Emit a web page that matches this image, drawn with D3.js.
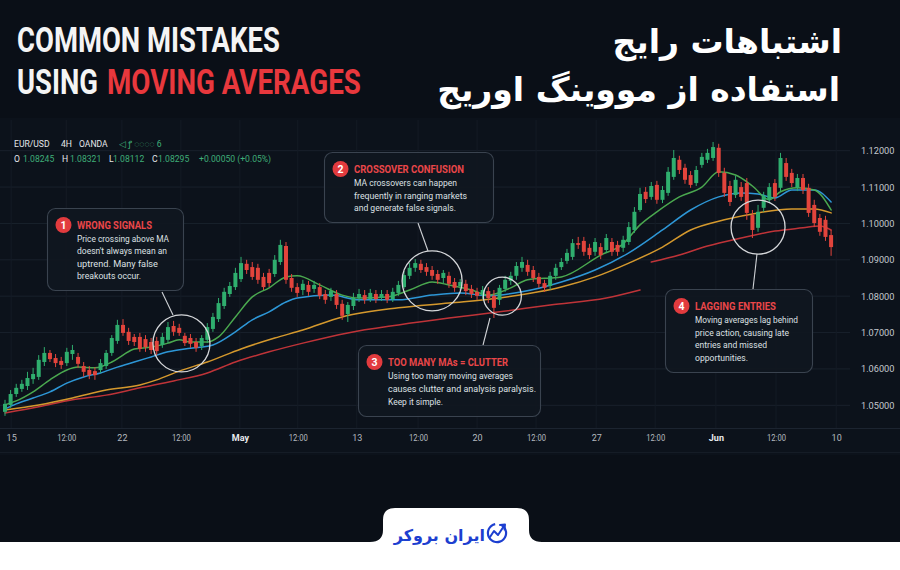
<!DOCTYPE html>
<html><head><meta charset="utf-8">
<script src="https://cdn.jsdelivr.net/npm/d3@7"></script>
<style>
html,body{margin:0;padding:0;background:#fff;}
svg{display:block;}
</style></head><body>
<svg id="c" width="900" height="570"></svg>
<script>
// ---------- DATA ----------
// candles: [open, high, low, close]
const candles = [
[1.0482,1.0515,1.0471,1.0504],[1.0501,1.0542,1.0493,1.0531],[1.0531,1.0559,1.0523,1.0548],[1.0545,1.0570,1.0537,1.0559],
[1.0553,1.0592,1.0542,1.0575],[1.0572,1.0603,1.0559,1.0586],[1.0578,1.0638,1.0570,1.0625],[1.0619,1.0660,1.0608,1.0644],
[1.0644,1.0652,1.0619,1.0627],[1.0630,1.0641,1.0605,1.0616],[1.0622,1.0633,1.0600,1.0611],[1.0616,1.0658,1.0608,1.0647],
[1.0641,1.0666,1.0625,1.0652],[1.0633,1.0644,1.0603,1.0614],[1.0608,1.0619,1.0578,1.0592],[1.0597,1.0608,1.0572,1.0583],
[1.0594,1.0605,1.0570,1.0583],[1.0597,1.0627,1.0589,1.0616],[1.0608,1.0652,1.0600,1.0644],[1.0644,1.0693,1.0636,1.0685],
[1.0677,1.0735,1.0669,1.0721],[1.0721,1.0737,1.0691,1.0699],[1.0702,1.0713,1.0666,1.0677],[1.0688,1.0696,1.0663,1.0674],
[1.0688,1.0699,1.0647,1.0655],[1.0682,1.0693,1.0647,1.0660],[1.0674,1.0685,1.0641,1.0652],[1.0677,1.0688,1.0638,1.0649],
[1.0666,1.0699,1.0658,1.0688],[1.0680,1.0729,1.0671,1.0715],[1.0718,1.0732,1.0691,1.0702],[1.0713,1.0724,1.0691,1.0699],
[1.0691,1.0699,1.0663,1.0671],[1.0685,1.0696,1.0658,1.0669],[1.0674,1.0685,1.0647,1.0658],[1.0663,1.0693,1.0652,1.0685],
[1.0680,1.0726,1.0671,1.0715],[1.0710,1.0754,1.0702,1.0743],[1.0737,1.0795,1.0729,1.0781],[1.0773,1.0823,1.0765,1.0812],
[1.0806,1.0839,1.0798,1.0828],[1.0825,1.0878,1.0817,1.0864],[1.0847,1.0908,1.0839,1.0891],[1.0889,1.0900,1.0861,1.0872],
[1.0880,1.0894,1.0845,1.0853],[1.0878,1.0889,1.0834,1.0845],[1.0853,1.0864,1.0817,1.0825],[1.0864,1.0875,1.0825,1.0836],
[1.0861,1.0913,1.0853,1.0900],[1.0894,1.0955,1.0886,1.0941],[1.0938,1.0949,1.0834,1.0845],[1.0850,1.0861,1.0812,1.0823],
[1.0825,1.0836,1.0798,1.0809],[1.0817,1.0845,1.0803,1.0834],[1.0831,1.0842,1.0801,1.0812],[1.0820,1.0842,1.0809,1.0831],
[1.0825,1.0836,1.0792,1.0801],[1.0806,1.0817,1.0779,1.0790],[1.0798,1.0823,1.0787,1.0814],[1.0806,1.0817,1.0765,1.0776],
[1.0779,1.0790,1.0735,1.0746],[1.0751,1.0784,1.0729,1.0776],[1.0773,1.0809,1.0762,1.0795],[1.0795,1.0820,1.0784,1.0806],
[1.0803,1.0817,1.0779,1.0790],[1.0792,1.0820,1.0784,1.0809],[1.0806,1.0817,1.0781,1.0792],[1.0795,1.0817,1.0787,1.0806],
[1.0806,1.0817,1.0781,1.0790],[1.0792,1.0823,1.0784,1.0812],[1.0809,1.0842,1.0801,1.0831],[1.0825,1.0869,1.0820,1.0858],
[1.0856,1.0891,1.0847,1.0878],[1.0878,1.0902,1.0867,1.0891],[1.0889,1.0900,1.0864,1.0872],[1.0880,1.0891,1.0856,1.0867],
[1.0872,1.0883,1.0845,1.0856],[1.0861,1.0872,1.0834,1.0845],[1.0850,1.0872,1.0836,1.0864],[1.0856,1.0867,1.0823,1.0834],
[1.0839,1.0850,1.0812,1.0823],[1.0828,1.0847,1.0817,1.0839],[1.0834,1.0845,1.0803,1.0814],[1.0820,1.0831,1.0795,1.0806],
[1.0812,1.0823,1.0790,1.0801],[1.0803,1.0828,1.0792,1.0817],[1.0814,1.0825,1.0781,1.0795],[1.0801,1.0817,1.0740,1.0768],
[1.0790,1.0831,1.0776,1.0823],[1.0820,1.0856,1.0812,1.0845],[1.0842,1.0867,1.0831,1.0856],[1.0856,1.0894,1.0845,1.0883],
[1.0878,1.0908,1.0867,1.0894],[1.0886,1.0900,1.0856,1.0867],[1.0872,1.0883,1.0839,1.0850],[1.0853,1.0864,1.0823,1.0834],
[1.0836,1.0845,1.0812,1.0823],[1.0828,1.0867,1.0817,1.0856],[1.0856,1.0889,1.0845,1.0878],[1.0880,1.0905,1.0872,1.0894],
[1.0897,1.0930,1.0889,1.0919],[1.0908,1.0957,1.0900,1.0946],[1.0946,1.0963,1.0930,1.0941],[1.0952,1.0963,1.0911,1.0922],
[1.0933,1.0944,1.0902,1.0913],[1.0922,1.0960,1.0911,1.0949],[1.0935,1.0946,1.0902,1.0913],[1.0927,1.0971,1.0919,1.0960],
[1.0949,1.0960,1.0911,1.0922],[1.0941,1.0952,1.0911,1.0922],[1.0933,1.0966,1.0922,1.0955],[1.0949,1.1004,1.0941,1.0990],
[1.0982,1.1045,1.0974,1.1032],[1.1037,1.1098,1.1032,1.1081],[1.1087,1.1100,1.1056,1.1067],[1.1073,1.1114,1.1065,1.1103],
[1.1106,1.1117,1.1054,1.1065],[1.1065,1.1103,1.1056,1.1092],[1.1084,1.1155,1.1076,1.1142],[1.1128,1.1202,1.1120,1.1180],
[1.1175,1.1186,1.1136,1.1147],[1.1153,1.1164,1.1109,1.1120],[1.1133,1.1144,1.1098,1.1106],[1.1111,1.1158,1.1103,1.1147],
[1.1161,1.1194,1.1153,1.1183],[1.1175,1.1205,1.1166,1.1194],[1.1180,1.1224,1.1172,1.1210],[1.1208,1.1219,1.1128,1.1139],
[1.1139,1.1153,1.1073,1.1084],[1.1103,1.1117,1.1048,1.1059],[1.1078,1.1131,1.1070,1.1120],[1.1100,1.1114,1.1062,1.1073],
[1.1111,1.1125,1.1010,1.1029],[1.1023,1.1037,1.0960,1.0982],[1.0988,1.1051,1.0977,1.1032],[1.1043,1.1087,1.1032,1.1076],
[1.1065,1.1111,1.1056,1.1100],[1.1111,1.1122,1.1062,1.1073],[1.1098,1.1194,1.1087,1.1180],[1.1166,1.1180,1.1117,1.1128],
[1.1139,1.1150,1.1100,1.1111],[1.1098,1.1136,1.1089,1.1125],[1.1125,1.1136,1.1081,1.1092],[1.1098,1.1109,1.1018,1.1029],
[1.1051,1.1065,1.0990,1.1001],[1.1015,1.1026,1.0966,1.0977],[1.1010,1.1021,1.0952,1.0963],[1.0968,1.0982,1.0911,1.0935]
];
// moving averages: [candle index, value]
const maFast = [[0,1.0501],[2,1.0512],[5,1.0537],[8,1.0570],[11,1.0597],[13,1.0605],[16,1.0603],[19,1.0619],[21,1.0638],[23,1.0655],[26,1.0660],[29,1.0671],[31,1.0680],[33,1.0674],[36,1.0674],[38,1.0688],[41,1.0743],[44,1.0798],[47,1.0823],[50,1.0853],[52,1.0856],[56,1.0831],[60,1.0803],[63,1.0795],[68,1.0798],[72,1.0817],[76,1.0839],[79,1.0831],[83,1.0817],[86,1.0803],[90,1.0823],[93,1.0845],[99,1.0853],[106,1.0913],[110,1.0944],[113,1.0996],[116,1.1032],[120,1.1073],[124,1.1100],[127,1.1142],[130,1.1133],[133,1.1103],[136,1.1065],[138,1.1087],[141,1.1098],[144,1.1092],[147,1.1037]];
const maMid = [[0,1.0490],[2,1.0504],[5,1.0520],[8,1.0537],[11,1.0561],[14,1.0578],[17,1.0589],[20,1.0605],[23,1.0619],[26,1.0633],[29,1.0647],[32,1.0655],[35,1.0660],[37,1.0666],[41,1.0702],[44,1.0735],[47,1.0757],[50,1.0784],[52,1.0795],[58,1.0803],[63,1.0790],[70,1.0790],[76,1.0803],[81,1.0809],[86,1.0801],[92,1.0812],[99,1.0839],[105,1.0872],[111,1.0919],[117,1.0982],[122,1.1037],[127,1.1073],[131,1.1084],[134,1.1081],[137,1.1070],[140,1.1092],[144,1.1092],[147,1.1059]];
const maSlow = [[0,1.0487],[6,1.0501],[12,1.0520],[18,1.0542],[24,1.0556],[27,1.0570],[31,1.0594],[36,1.0619],[42,1.0655],[48,1.0685],[53,1.0707],[60,1.0743],[70,1.0768],[79,1.0781],[88,1.0795],[99,1.0825],[105,1.0853],[111,1.0891],[117,1.0935],[122,1.0982],[128,1.1010],[134,1.1029],[140,1.1040],[144,1.1040],[147,1.1029]];
const maLong = [[0,1.0479],[6,1.0496],[12,1.0515],[18,1.0528],[24,1.0548],[30,1.0567],[36,1.0589],[41,1.0619],[47,1.0647],[53,1.0671],[61,1.0699],[70,1.0721],[79,1.0740],[88,1.0757],[97,1.0776],[107,1.0795],[113,1.0817],[114,null],[115,1.0894],[120,1.0913],[125,1.0938],[131,1.0960],[137,1.0979],[142,1.0988],[145,1.0993],[147,1.0982]];

const priceTicks = [1.05,1.06,1.07,1.08,1.09,1.10,1.11,1.12];
const timeTickLabels = ["15","12:00","22","12:00","May","12:00","13","12:00","20","12:00","27","12:00","Jun","12:00","10"];
const timeTickPos = [1.1,10.9,20.8,31.3,41.8,52.1,62.6,73.5,84.0,94.5,105.2,115.7,126.5,137.2,147.9];
const boldTicks = ["May","Jun"];

const headerLine1 = ["EUR/USD","4H","OANDA"];
const headerGlyphs = "◁ ꝭ ◌◌◌◌ 6";
const ohlcLabels = ["O","H","L","C"];
const ohlcValues = ["1.08245","1.08321","1.08112","1.08295"];
const changeText = "+0.00050 (+0.05%)";

const notes = [
  {n:"1", title:"WRONG SIGNALS", lines:["Price crossing above MA","doesn't always mean an","uptrend. Many false","breakouts occur."]},
  {n:"2", title:"CROSSOVER CONFUSION", lines:["MA crossovers can happen","frequently in ranging markets","and generate false signals."]},
  {n:"3", title:"TOO MANY MAs = CLUTTER", lines:["Using too many moving averages","causes clutter and analysis paralysis.","Keep it simple."]},
  {n:"4", title:"LAGGING ENTRIES", lines:["Moving averages lag behind","price action, causing late","entries and missed","opportunities."]}
];
// highlight circles: [candle index, price]
const rings = [[31.4,1.0670],[76.0,1.0842],[88.5,1.0800],[134.0,1.0990]];

// ---------- LAYOUT ----------
const W=900,H=570;
const svg=d3.select("#c");
const x=d3.scaleLinear().domain([0,candles.length-1]).range([5,831.1]);
const y=d3.scaleLinear().domain([1.05,1.12]).range([405.3,150.7]);

svg.append("rect").attr("width",W).attr("height",H).attr("fill","#0a0f17");
svg.append("rect").attr("x",0).attr("y",118).attr("width",W).attr("height",337).attr("fill","#0c121b");

// grid
const grid=svg.append("g");
grid.selectAll("line.h").data(priceTicks).join("line")
  .attr("x1",0).attr("x2",850).attr("y1",d=>y(d)).attr("y2",d=>y(d))
  .attr("stroke","#19212c").attr("stroke-width",1);
grid.selectAll("line.v").data(timeTickPos).join("line")
  .attr("x1",d=>x(d)).attr("x2",d=>x(d)).attr("y1",120).attr("y2",428)
  .attr("stroke","#141b25").attr("stroke-width",1);
svg.append("line").attr("x1",0).attr("x2",W).attr("y1",428.5).attr("y2",428.5).attr("stroke","#1c2430");
svg.append("line").attr("x1",0).attr("x2",W).attr("y1",452.5).attr("y2",452.5).attr("stroke","#151c26");

// y axis labels
const yAxis=d3.axisRight(y).tickValues(priceTicks).tickFormat(d3.format(".5f")).tickSize(0).tickPadding(0);
const ya=svg.append("g").attr("transform","translate(861,0)").call(yAxis);
ya.select(".domain").remove();
ya.selectAll("text").attr("fill","#c3c8ce").attr("font-family","Roboto, sans-serif").attr("font-size",9.2);

// x axis labels
const xAxis=d3.axisBottom(x).tickValues(timeTickPos).tickFormat((d,i)=>timeTickLabels[i]).tickSize(0).tickPadding(0);
const xa=svg.append("g").attr("transform","translate(0,435)").call(xAxis);
xa.select(".domain").remove();
xa.selectAll("text").attr("font-family","Roboto, sans-serif").attr("font-size",9)
  .attr("fill",(d,i)=>boldTicks.includes(timeTickLabels[i])?"#e8ebee":"#b4b9bf")
  .attr("font-weight",(d,i)=>boldTicks.includes(timeTickLabels[i])?"700":"400")
  .attr("textLength",(d,i)=>timeTickLabels[i].length>3?19:null)
  .attr("lengthAdjust","spacingAndGlyphs");

// MA lines
const line=d3.line().defined(d=>d[1]!==null).x(d=>x(d[0])).y(d=>y(d[1])).curve(d3.curveMonotoneX);
const maG=svg.append("g").attr("fill","none").attr("stroke-width",1.5).attr("stroke-linecap","round");
[[maLong,"#c9363a"],[maSlow,"#dfa02e"],[maMid,"#2f9ee0"],[maFast,"#4eb152"]].forEach(([d,c])=>{
  maG.append("path").attr("d",line(d)).attr("stroke",c).attr("opacity",0.95);
});

// candles
const up="#2fae6e", dn="#e2443c";
const cg=svg.append("g");
const cw=4;
cg.selectAll("line").data(candles).join("line")
  .attr("x1",(d,i)=>x(i)).attr("x2",(d,i)=>x(i))
  .attr("y1",d=>y(d[1])).attr("y2",d=>y(d[2]))
  .attr("stroke",d=>d[3]>=d[0]?up:dn).attr("stroke-width",1);
cg.selectAll("rect").data(candles).join("rect")
  .attr("x",(d,i)=>x(i)-cw/2).attr("width",cw)
  .attr("y",d=>y(Math.max(d[0],d[3])))
  .attr("height",d=>Math.max(1,Math.abs(y(d[0])-y(d[3]))))
  .attr("fill",d=>d[3]>=d[0]?up:dn);

// rings
const ringR=[28.5,30,19,27];
svg.append("g").selectAll("circle").data(rings).join("circle")
  .attr("cx",d=>x(d[0])).attr("cy",d=>y(d[1])).attr("r",(d,i)=>ringR[i])
  .attr("fill","none").attr("stroke","#d5d7da").attr("stroke-width",1.3);

// connectors
const conn=[[162,292,173,315],[418,223,428,251],[483,345,490,318],[757,254,753,289]];
svg.append("g").selectAll("line").data(conn).join("line")
  .attr("x1",d=>d[0]).attr("y1",d=>d[1]).attr("x2",d=>d[2]).attr("y2",d=>d[3])
  .attr("stroke","#cfd2d6").attr("stroke-width",1.1);

// callout boxes
const boxes=[
  {x:47,y:208,w:136,h:82, tw:75, lw:[92,90,81,64], lh:12.4},
  {x:324,y:152,w:169,h:70, tw:110, lw:[103,113,102], lh:12.6},
  {x:358,y:345,w:182,h:71, tw:120, lw:[125,148,55], lh:13},
  {x:665,y:289,w:147,h:83, tw:81, lw:[103,94,72,53], lh:12.7}
];
const nb=svg.append("g");
notes.forEach((n,i)=>{
  const b=boxes[i];
  const g=nb.append("g").attr("transform",`translate(${b.x},${b.y})`);
  g.append("rect").attr("x",0.5).attr("y",0.5).attr("width",b.w).attr("height",b.h).attr("rx",8)
    .attr("fill","#101720").attr("fill-opacity",0.92).attr("stroke","#3a434f").attr("stroke-width",1.1);
  g.append("circle").attr("cx",16.5).attr("cy",17).attr("r",8).attr("fill","#e23b3e");
  g.append("text").attr("x",16.5).attr("y",20.6).attr("text-anchor","middle").attr("fill","#fff")
    .attr("font-family","Roboto, sans-serif").attr("font-weight",700).attr("font-size",10.5).text(n.n);
  g.append("text").attr("x",30).attr("y",20.5).attr("fill","#ea4649")
    .attr("font-family","Roboto, sans-serif").attr("font-weight",700).attr("font-size",11.5)
    .attr("textLength",b.tw).attr("lengthAdjust","spacingAndGlyphs").text(n.title);
  n.lines.forEach((t,j)=>{
    g.append("text").attr("x",30).attr("y",34+j*b.lh).attr("fill","#dde0e4")
      .attr("font-family","Roboto, sans-serif").attr("font-size",9.6)
      .attr("textLength",b.lw[j]).attr("lengthAdjust","spacingAndGlyphs").text(t);
  });
});

// header info
const hd=svg.append("g").attr("font-family","Roboto, sans-serif").attr("font-size",8.6);
const h1x=[14,61,79];
headerLine1.forEach((t,i)=>hd.append("text").attr("x",h1x[i]).attr("y",147).attr("fill","#e4e7ea").text(t));
hd.append("text").attr("x",119).attr("y",147).attr("fill","#3fae78").text(headerGlyphs);
const olx=[14,62,109,152], ovx=[23,70,113,158];
ohlcLabels.forEach((t,i)=>{
  hd.append("text").attr("x",olx[i]).attr("y",161.5).attr("fill","#e4e7ea").text(t);
  hd.append("text").attr("x",ovx[i]).attr("y",161.5).attr("fill","#3fae78").text(ohlcValues[i]);
});
hd.append("text").attr("x",199).attr("y",161.5).attr("fill","#3fae78").text(changeText);

// titles (condensed by horizontal scaling to the measured widths)
const tt=svg.append("g").attr("font-family","Roboto, sans-serif").attr("font-weight",700).attr("font-size",35);
function fitTitle(str,tx,ty,target,fill){
  const t=tt.append("text").attr("x",0).attr("y",0).attr("fill",fill).text(str);
  const w=t.node().getComputedTextLength();
  t.attr("transform",`translate(${tx},${ty}) scale(${target/w},1)`);
}
fitTitle("COMMON MISTAKES",17,52.2,263,"#f4f4f4");
fitTitle("USING",17,93.6,81,"#f4f4f4");
fitTitle("MOVING AVERAGES",107,93.6,254,"#e8383d");

const fa=svg.append("g").attr("font-family","'DejaVu Sans', sans-serif").attr("font-weight",700).attr("fill","#ffffff").attr("text-anchor","end");
fa.append("text").attr("x",842).attr("y",53).attr("font-size",33).text("اشتباهات رایج");
fa.append("text").attr("x",840).attr("y",101).attr("font-size",33).text("استفاده از مووینگ اوریج");

// bottom white tab
const tab=d3.path();
tab.moveTo(0,542); tab.lineTo(370,542);
tab.quadraticCurveTo(383,542,383,530);
tab.lineTo(383,520); tab.quadraticCurveTo(383,508,395,508);
tab.lineTo(517,508); tab.quadraticCurveTo(529,508,529,520);
tab.lineTo(529,530); tab.quadraticCurveTo(529,542,542,542);
tab.lineTo(W,542); tab.lineTo(W,H); tab.lineTo(0,H); tab.closePath();
svg.append("path").attr("d",tab.toString()).attr("fill","#ffffff");

// logo
const lg=svg.append("g");
lg.append("text").attr("x",485).attr("y",541).attr("text-anchor","end").attr("fill","#1d3fd0")
  .attr("font-family","'DejaVu Sans', sans-serif").attr("font-weight",700).attr("font-size",16).text("ایران بروکر");
const arc=d3.arc().innerRadius(8).outerRadius(10.2).startAngle(0.5).endAngle(2*Math.PI-0.2);
lg.append("path").attr("transform","translate(497,533)").attr("d",arc()).attr("fill","#1d3fd0");
lg.append("path").attr("d","M490,537 L494,531 L498,535 L504,526").attr("fill","none").attr("stroke","#1d3fd0").attr("stroke-width",2).attr("stroke-linejoin","round").attr("stroke-linecap","round");
lg.append("path").attr("d","M500,525 L505,524.5 L504.5,529.5").attr("fill","none").attr("stroke","#1d3fd0").attr("stroke-width",2).attr("stroke-linecap","round").attr("stroke-linejoin","round");
</script>
</body></html>
